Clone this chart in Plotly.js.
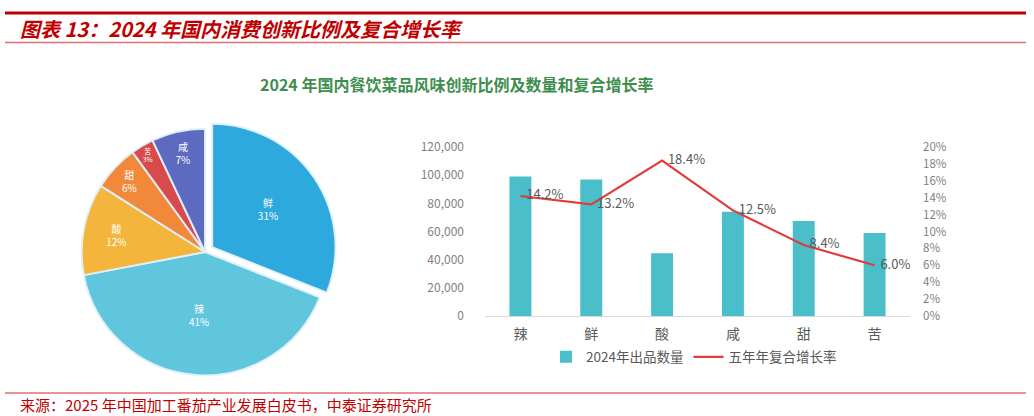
<!DOCTYPE html>
<html>
<head>
<meta charset="utf-8">
<script src="https://cdn.plot.ly/plotly-3.0.1.min.js"></script>
<style>
html,body{margin:0;padding:0;background:#fff;}
#chart{width:1034px;height:416px;}
</style>
</head>
<body>
<div id="chart"></div>
<script>
// Pie data (share of flavour innovation)
const pieLabels = ['鲜', '辣', '酸', '甜', '苦', '咸'];
const pieValues = [31, 41, 12, 6, 3, 7];
const pieColors = ['#2EA9DD', '#5FC6DE', '#F4B53C', '#F2893A', '#D84A4C', '#5C6BC0'];

// Bar/line data
const categories = ['辣', '鲜', '酸', '咸', '甜', '苦'];
const counts2024 = [99000, 97000, 44500, 74000, 67500, 59000];
const cagr = [14.2, 13.2, 18.4, 12.5, 8.4, 6.0];
const cagrLabels = ['14.2%', '13.2%', '18.4%', '12.5%', '8.4%', '6.0%'];

const leftTicks = [0, 20000, 40000, 60000, 80000, 100000, 120000];
const leftTickText = ['0', '20,000', '40,000', '60,000', '80,000', '100,000', '120,000'];
const rightTicks = [0, 2, 4, 6, 8, 10, 12, 14, 16, 18, 20];
const rightTickText = ['0%', '2%', '4%', '6%', '8%', '10%', '12%', '14%', '16%', '18%', '20%'];

const W = 1034, H = 416;
const px = v => v / W;
const py = v => 1 - v / H;
const CJK = '"Noto Sans CJK SC", "Noto Sans", sans-serif';
const gray = '#7F7F7F';

const traces = [
  {
    type: 'pie',
    labels: pieLabels,
    values: pieValues,
    sort: false,
    direction: 'clockwise',
    rotation: 0,
    pull: [0.07, 0, 0, 0, 0, 0],
    marker: {colors: pieColors, line: {color: 'rgba(225,240,250,0.95)', width: 2}},
    texttemplate: '%{label}<br>%{percent:.0%}',
    textposition: 'inside',
    insidetextorientation: 'horizontal',
    textfont: {family: CJK, size: 10, color: '#ffffff'},
    domain: {x: [px(55), px(355)], y: [py(384), py(120)]},
    showlegend: false,
    hoverinfo: 'label+percent'
  },
  {
    type: 'bar',
    name: '2024年出品数量',
    x: categories,
    y: counts2024,
    marker: {color: '#4BBFC9'},
    width: 0.31,
    xaxis: 'x', yaxis: 'y'
  },
  {
    type: 'scatter',
    mode: 'lines+text',
    name: '五年年复合增长率',
    x: categories,
    y: cagr,
    text: cagrLabels.map(s => '\u00a0\u00a0' + s),
    textposition: 'middle right',
    textfont: {family: CJK, size: 13, color: '#595959'},
    line: {color: '#E23B3B', width: 2.2},
    xaxis: 'x', yaxis: 'y2'
  }
];

const layout = {
  width: W, height: H,
  margin: {l: 0, r: 0, t: 0, b: 0},
  paper_bgcolor: '#ffffff',
  plot_bgcolor: 'rgba(0,0,0,0)',
  font: {family: CJK, color: gray},
  xaxis: {
    domain: [px(485), px(910)],
    anchor: 'y',
    type: 'category',
    showgrid: false,
    showline: true,
    linecolor: '#D9D9D9',
    linewidth: 1,
    ticks: '',
    ticklabelstandoff: 5,
    tickfont: {family: CJK, size: 14, color: '#595959'},
    fixedrange: true
  },
  yaxis: {
    domain: [py(316), py(147)],
    range: [0, 120000],
    tickvals: leftTicks,
    ticktext: leftTickText,
    showgrid: false,
    zeroline: false,
    showline: false,
    ticks: '',
    ticklabelstandoff: 20,
    tickfont: {family: CJK, size: 12, color: gray}
  },
  yaxis2: {
    overlaying: 'y',
    side: 'right',
    anchor: 'x',
    range: [0, 20],
    tickvals: rightTicks,
    ticktext: rightTickText,
    showgrid: false,
    zeroline: false,
    showline: false,
    ticks: '',
    ticklabelstandoff: 12,
    tickfont: {family: CJK, size: 11.5, color: gray}
  },
  showlegend: true,
  legend: {
    orientation: 'h',
    x: px(694), xanchor: 'center',
    y: py(357), yanchor: 'middle',
    bgcolor: 'rgba(0,0,0,0)',
    font: {family: CJK, size: 13.5, color: '#595959'},
    traceorder: 'normal',
    itemwidth: 30
  },
  shapes: [
    {type: 'line', xref: 'paper', yref: 'paper', x0: px(5), x1: px(1026), y0: py(13), y1: py(13), line: {color: '#C00000', width: 3}},
    {type: 'line', xref: 'paper', yref: 'paper', x0: px(5), x1: px(1026), y0: py(42.5), y1: py(42.5), line: {color: '#E07070', width: 1.5}},
    {type: 'line', xref: 'paper', yref: 'paper', x0: px(5), x1: px(1026), y0: py(393), y1: py(393), line: {color: '#E07070', width: 1.5}}
  ],
  annotations: [
    {xref: 'paper', yref: 'paper', x: px(18), y: py(29), xanchor: 'left', yanchor: 'middle', showarrow: false,
     text: '<b><i>图表 13：2024 年国内消费创新比例及复合增长率</i></b>',
     font: {family: CJK, size: 20, color: '#C00000'}},
    {xref: 'paper', yref: 'paper', x: px(456), y: py(84), xanchor: 'center', yanchor: 'middle', showarrow: false,
     text: '<b>2024 年国内餐饮菜品风味创新比例及数量和复合增长率</b>',
     font: {family: CJK, size: 16, color: '#3E8E4E'}},
    {xref: 'paper', yref: 'paper', x: px(18), y: py(404), xanchor: 'left', yanchor: 'middle', showarrow: false,
     text: '来源：2025 年中国加工番茄产业发展白皮书，中泰证券研究所',
     font: {family: CJK, size: 15, color: '#C00000'}}
  ]
};

Plotly.newPlot('chart', traces, layout, {displayModeBar: false, staticPlot: true});
</script>
</body>
</html>
